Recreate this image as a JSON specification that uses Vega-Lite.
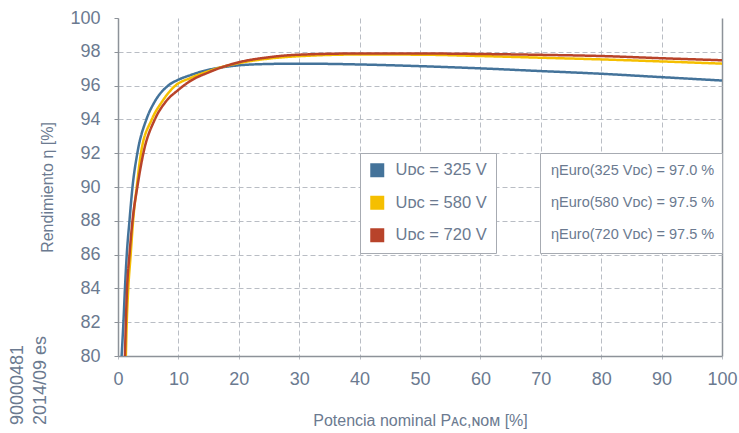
{
  "$schema": "https://vega.github.io/schema/vega-lite/v6.json",
  "width": 604,
  "height": 338,
  "autosize": {"type": "none"},
  "padding": {"left": 118, "top": 18, "right": 17, "bottom": 77},
  "background": "white",
  "config": {
    "font": "Liberation Sans",
    "view": {"stroke": null},
    "axis": {"labelFont": "Liberation Sans", "titleFont": "Liberation Sans", "titleFontWeight": "normal"},
    "legend": {"labelFont": "Liberation Sans"}
  },
  "title": {
    "text": ["90000481", "2014/09 es"],
    "orient": "left",
    "anchor": "start",
    "frame": "bounds",
    "fontSize": 18,
    "fontWeight": "normal",
    "lineHeight": 23,
    "color": "#6b7a90",
    "offset": -10,
    "dx": 3
  },
  "data": {
    "values": [
      {"x": 0.6, "y": 80, "s": "Uᴅᴄ = 325 V", "eta": "ηEuro(325 Vᴅᴄ) = 97.0 %"},
      {"x": 0.9, "y": 82, "s": "Uᴅᴄ = 325 V", "eta": "ηEuro(325 Vᴅᴄ) = 97.0 %"},
      {"x": 1.15, "y": 84, "s": "Uᴅᴄ = 325 V", "eta": "ηEuro(325 Vᴅᴄ) = 97.0 %"},
      {"x": 1.45, "y": 86, "s": "Uᴅᴄ = 325 V", "eta": "ηEuro(325 Vᴅᴄ) = 97.0 %"},
      {"x": 1.9, "y": 88, "s": "Uᴅᴄ = 325 V", "eta": "ηEuro(325 Vᴅᴄ) = 97.0 %"},
      {"x": 2.4, "y": 90, "s": "Uᴅᴄ = 325 V", "eta": "ηEuro(325 Vᴅᴄ) = 97.0 %"},
      {"x": 3.2, "y": 92, "s": "Uᴅᴄ = 325 V", "eta": "ηEuro(325 Vᴅᴄ) = 97.0 %"},
      {"x": 4.7, "y": 94, "s": "Uᴅᴄ = 325 V", "eta": "ηEuro(325 Vᴅᴄ) = 97.0 %"},
      {"x": 6.0, "y": 95, "s": "Uᴅᴄ = 325 V", "eta": "ηEuro(325 Vᴅᴄ) = 97.0 %"},
      {"x": 8.3, "y": 96, "s": "Uᴅᴄ = 325 V", "eta": "ηEuro(325 Vᴅᴄ) = 97.0 %"},
      {"x": 10, "y": 96.35, "s": "Uᴅᴄ = 325 V", "eta": "ηEuro(325 Vᴅᴄ) = 97.0 %"},
      {"x": 12, "y": 96.62, "s": "Uᴅᴄ = 325 V", "eta": "ηEuro(325 Vᴅᴄ) = 97.0 %"},
      {"x": 14, "y": 96.85, "s": "Uᴅᴄ = 325 V", "eta": "ηEuro(325 Vᴅᴄ) = 97.0 %"},
      {"x": 17, "y": 97.07, "s": "Uᴅᴄ = 325 V", "eta": "ηEuro(325 Vᴅᴄ) = 97.0 %"},
      {"x": 20, "y": 97.2, "s": "Uᴅᴄ = 325 V", "eta": "ηEuro(325 Vᴅᴄ) = 97.0 %"},
      {"x": 25, "y": 97.28, "s": "Uᴅᴄ = 325 V", "eta": "ηEuro(325 Vᴅᴄ) = 97.0 %"},
      {"x": 30, "y": 97.3, "s": "Uᴅᴄ = 325 V", "eta": "ηEuro(325 Vᴅᴄ) = 97.0 %"},
      {"x": 40, "y": 97.25, "s": "Uᴅᴄ = 325 V", "eta": "ηEuro(325 Vᴅᴄ) = 97.0 %"},
      {"x": 50, "y": 97.15, "s": "Uᴅᴄ = 325 V", "eta": "ηEuro(325 Vᴅᴄ) = 97.0 %"},
      {"x": 60, "y": 97.02, "s": "Uᴅᴄ = 325 V", "eta": "ηEuro(325 Vᴅᴄ) = 97.0 %"},
      {"x": 70, "y": 96.86, "s": "Uᴅᴄ = 325 V", "eta": "ηEuro(325 Vᴅᴄ) = 97.0 %"},
      {"x": 80, "y": 96.7, "s": "Uᴅᴄ = 325 V", "eta": "ηEuro(325 Vᴅᴄ) = 97.0 %"},
      {"x": 90, "y": 96.5, "s": "Uᴅᴄ = 325 V", "eta": "ηEuro(325 Vᴅᴄ) = 97.0 %"},
      {"x": 100, "y": 96.3, "s": "Uᴅᴄ = 325 V", "eta": "ηEuro(325 Vᴅᴄ) = 97.0 %"},
      {"x": 1.3, "y": 80, "s": "Uᴅᴄ = 580 V", "eta": "ηEuro(580 Vᴅᴄ) = 97.5 %"},
      {"x": 1.45, "y": 82, "s": "Uᴅᴄ = 580 V", "eta": "ηEuro(580 Vᴅᴄ) = 97.5 %"},
      {"x": 1.7, "y": 84, "s": "Uᴅᴄ = 580 V", "eta": "ηEuro(580 Vᴅᴄ) = 97.5 %"},
      {"x": 2.1, "y": 86, "s": "Uᴅᴄ = 580 V", "eta": "ηEuro(580 Vᴅᴄ) = 97.5 %"},
      {"x": 2.5, "y": 88, "s": "Uᴅᴄ = 580 V", "eta": "ηEuro(580 Vᴅᴄ) = 97.5 %"},
      {"x": 3.1, "y": 90, "s": "Uᴅᴄ = 580 V", "eta": "ηEuro(580 Vᴅᴄ) = 97.5 %"},
      {"x": 3.8, "y": 92, "s": "Uᴅᴄ = 580 V", "eta": "ηEuro(580 Vᴅᴄ) = 97.5 %"},
      {"x": 5.6, "y": 94, "s": "Uᴅᴄ = 580 V", "eta": "ηEuro(580 Vᴅᴄ) = 97.5 %"},
      {"x": 7.2, "y": 95, "s": "Uᴅᴄ = 580 V", "eta": "ηEuro(580 Vᴅᴄ) = 97.5 %"},
      {"x": 9.5, "y": 96, "s": "Uᴅᴄ = 580 V", "eta": "ηEuro(580 Vᴅᴄ) = 97.5 %"},
      {"x": 12, "y": 96.45, "s": "Uᴅᴄ = 580 V", "eta": "ηEuro(580 Vᴅᴄ) = 97.5 %"},
      {"x": 15, "y": 96.85, "s": "Uᴅᴄ = 580 V", "eta": "ηEuro(580 Vᴅᴄ) = 97.5 %"},
      {"x": 17, "y": 97.08, "s": "Uᴅᴄ = 580 V", "eta": "ηEuro(580 Vᴅᴄ) = 97.5 %"},
      {"x": 20, "y": 97.33, "s": "Uᴅᴄ = 580 V", "eta": "ηEuro(580 Vᴅᴄ) = 97.5 %"},
      {"x": 25, "y": 97.6, "s": "Uᴅᴄ = 580 V", "eta": "ηEuro(580 Vᴅᴄ) = 97.5 %"},
      {"x": 30, "y": 97.74, "s": "Uᴅᴄ = 580 V", "eta": "ηEuro(580 Vᴅᴄ) = 97.5 %"},
      {"x": 40, "y": 97.84, "s": "Uᴅᴄ = 580 V", "eta": "ηEuro(580 Vᴅᴄ) = 97.5 %"},
      {"x": 50, "y": 97.83, "s": "Uᴅᴄ = 580 V", "eta": "ηEuro(580 Vᴅᴄ) = 97.5 %"},
      {"x": 60, "y": 97.75, "s": "Uᴅᴄ = 580 V", "eta": "ηEuro(580 Vᴅᴄ) = 97.5 %"},
      {"x": 70, "y": 97.65, "s": "Uᴅᴄ = 580 V", "eta": "ηEuro(580 Vᴅᴄ) = 97.5 %"},
      {"x": 80, "y": 97.55, "s": "Uᴅᴄ = 580 V", "eta": "ηEuro(580 Vᴅᴄ) = 97.5 %"},
      {"x": 90, "y": 97.43, "s": "Uᴅᴄ = 580 V", "eta": "ηEuro(580 Vᴅᴄ) = 97.5 %"},
      {"x": 100, "y": 97.3, "s": "Uᴅᴄ = 580 V", "eta": "ηEuro(580 Vᴅᴄ) = 97.5 %"},
      {"x": 1.15, "y": 80, "s": "Uᴅᴄ = 720 V", "eta": "ηEuro(720 Vᴅᴄ) = 97.5 %"},
      {"x": 1.3, "y": 82, "s": "Uᴅᴄ = 720 V", "eta": "ηEuro(720 Vᴅᴄ) = 97.5 %"},
      {"x": 1.5, "y": 84, "s": "Uᴅᴄ = 720 V", "eta": "ηEuro(720 Vᴅᴄ) = 97.5 %"},
      {"x": 1.9, "y": 86, "s": "Uᴅᴄ = 720 V", "eta": "ηEuro(720 Vᴅᴄ) = 97.5 %"},
      {"x": 2.4, "y": 88, "s": "Uᴅᴄ = 720 V", "eta": "ηEuro(720 Vᴅᴄ) = 97.5 %"},
      {"x": 3.2, "y": 90, "s": "Uᴅᴄ = 720 V", "eta": "ηEuro(720 Vᴅᴄ) = 97.5 %"},
      {"x": 4.2, "y": 92, "s": "Uᴅᴄ = 720 V", "eta": "ηEuro(720 Vᴅᴄ) = 97.5 %"},
      {"x": 6.1, "y": 94, "s": "Uᴅᴄ = 720 V", "eta": "ηEuro(720 Vᴅᴄ) = 97.5 %"},
      {"x": 7.8, "y": 95, "s": "Uᴅᴄ = 720 V", "eta": "ηEuro(720 Vᴅᴄ) = 97.5 %"},
      {"x": 10, "y": 95.75, "s": "Uᴅᴄ = 720 V", "eta": "ηEuro(720 Vᴅᴄ) = 97.5 %"},
      {"x": 12, "y": 96.28, "s": "Uᴅᴄ = 720 V", "eta": "ηEuro(720 Vᴅᴄ) = 97.5 %"},
      {"x": 15, "y": 96.78, "s": "Uᴅᴄ = 720 V", "eta": "ηEuro(720 Vᴅᴄ) = 97.5 %"},
      {"x": 17, "y": 97.06, "s": "Uᴅᴄ = 720 V", "eta": "ηEuro(720 Vᴅᴄ) = 97.5 %"},
      {"x": 20, "y": 97.38, "s": "Uᴅᴄ = 720 V", "eta": "ηEuro(720 Vᴅᴄ) = 97.5 %"},
      {"x": 25, "y": 97.68, "s": "Uᴅᴄ = 720 V", "eta": "ηEuro(720 Vᴅᴄ) = 97.5 %"},
      {"x": 30, "y": 97.83, "s": "Uᴅᴄ = 720 V", "eta": "ηEuro(720 Vᴅᴄ) = 97.5 %"},
      {"x": 40, "y": 97.9, "s": "Uᴅᴄ = 720 V", "eta": "ηEuro(720 Vᴅᴄ) = 97.5 %"},
      {"x": 50, "y": 97.9, "s": "Uᴅᴄ = 720 V", "eta": "ηEuro(720 Vᴅᴄ) = 97.5 %"},
      {"x": 60, "y": 97.87, "s": "Uᴅᴄ = 720 V", "eta": "ηEuro(720 Vᴅᴄ) = 97.5 %"},
      {"x": 70, "y": 97.82, "s": "Uᴅᴄ = 720 V", "eta": "ηEuro(720 Vᴅᴄ) = 97.5 %"},
      {"x": 80, "y": 97.75, "s": "Uᴅᴄ = 720 V", "eta": "ηEuro(720 Vᴅᴄ) = 97.5 %"},
      {"x": 90, "y": 97.62, "s": "Uᴅᴄ = 720 V", "eta": "ηEuro(720 Vᴅᴄ) = 97.5 %"},
      {"x": 100, "y": 97.5, "s": "Uᴅᴄ = 720 V", "eta": "ηEuro(720 Vᴅᴄ) = 97.5 %"}
    ]
  },
  "mark": {"type": "line", "strokeWidth": 2.5, "interpolate": "monotone", "clip": true},
  "encoding": {
    "x": {
      "field": "x",
      "type": "quantitative",
      "scale": {"domain": [0, 100], "nice": false},
      "axis": {
        "title": "Potencia nominal Pᴀᴄ,ɴᴏᴍ [%]",
        "titleFontSize": 16,
        "titleColor": "#6b7a90",
        "titlePadding": 24,
        "values": [0, 10, 20, 30, 40, 50, 60, 70, 80, 90, 100],
        "labelFontSize": 18,
        "labelColor": "#6b7a90",
        "labelPadding": 9,
        "labelFlush": false,
        "tickSize": 5,
        "tickColor": "#b9bdc4",
        "tickDash": [3, 2],
        "domainColor": "#8d9299",
        "domainWidth": 1.5,
        "grid": true,
        "gridColor": {"condition": {"test": "datum.value === 100", "value": "#8d9299"}, "value": "#b9bdc4"},
        "gridDash": {"condition": {"test": "datum.value === 100", "value": []}, "value": [5, 3]},
        "gridWidth": {"condition": {"test": "datum.value === 100", "value": 1.5}, "value": 1}
      }
    },
    "y": {
      "field": "y",
      "type": "quantitative",
      "scale": {"domain": [80, 100], "nice": false},
      "axis": {
        "title": "Rendimiento η [%]",
        "titleFontSize": 16,
        "titleColor": "#6b7a90",
        "titlePadding": 14,
        "values": [80, 82, 84, 86, 88, 90, 92, 94, 96, 98, 100],
        "labelFontSize": 18,
        "labelColor": "#6b7a90",
        "labelPadding": 14,
        "labelFlush": false,
        "tickSize": 4,
        "tickColor": "#8d9299",
        "domainColor": "#8d9299",
        "domainWidth": 1.5,
        "grid": true,
        "gridColor": "#b9bdc4",
        "gridDash": [5, 3],
        "gridOpacity": {"condition": {"test": "datum.value === 100 || datum.value === 80", "value": 0}, "value": 1}
      }
    },
    "color": {
      "field": "s",
      "type": "nominal",
      "scale": {"domain": ["Uᴅᴄ = 325 V", "Uᴅᴄ = 580 V", "Uᴅᴄ = 720 V"], "range": ["#44739a", "#f5bf00", "#b8432a"]},
      "legend": {
        "title": null,
        "orient": "none",
        "legendX": 242,
        "legendY": 135,
        "fillColor": "white",
        "strokeColor": "#a7abb2",
        "padding": 9,
        "symbolType": "square",
        "symbolSize": 196,
        "symbolStrokeWidth": 0,
        "labelFontSize": 16.5,
        "labelColor": "#6b7a90",
        "labelOffset": 10,
        "labelLimit": 300,
        "rowPadding": 15.5,
        "encode": {"symbols": {"update": {"fill": {"scale": "color", "field": "value"}, "fillOpacity": {"value": 1}}}}
      }
    },
    "strokeDash": {
      "field": "eta",
      "type": "nominal",
      "scale": {"domain": ["ηEuro(325 Vᴅᴄ) = 97.0 %", "ηEuro(580 Vᴅᴄ) = 97.5 %", "ηEuro(720 Vᴅᴄ) = 97.5 %"], "range": [[1, 0], [1, 0], [1, 0]]},
      "legend": {
        "title": null,
        "orient": "none",
        "legendX": 422,
        "legendY": 135,
        "fillColor": "white",
        "strokeColor": "#a7abb2",
        "padding": 7,
        "symbolType": "square",
        "symbolSize": 484,
        "symbolOpacity": 0,
        "symbolStrokeWidth": 0,
        "labelOffset": -18,
        "labelFontSize": 14.5,
        "labelColor": "#6b7a90",
        "labelLimit": 300,
        "rowPadding": 10
      }
    }
  }
}
